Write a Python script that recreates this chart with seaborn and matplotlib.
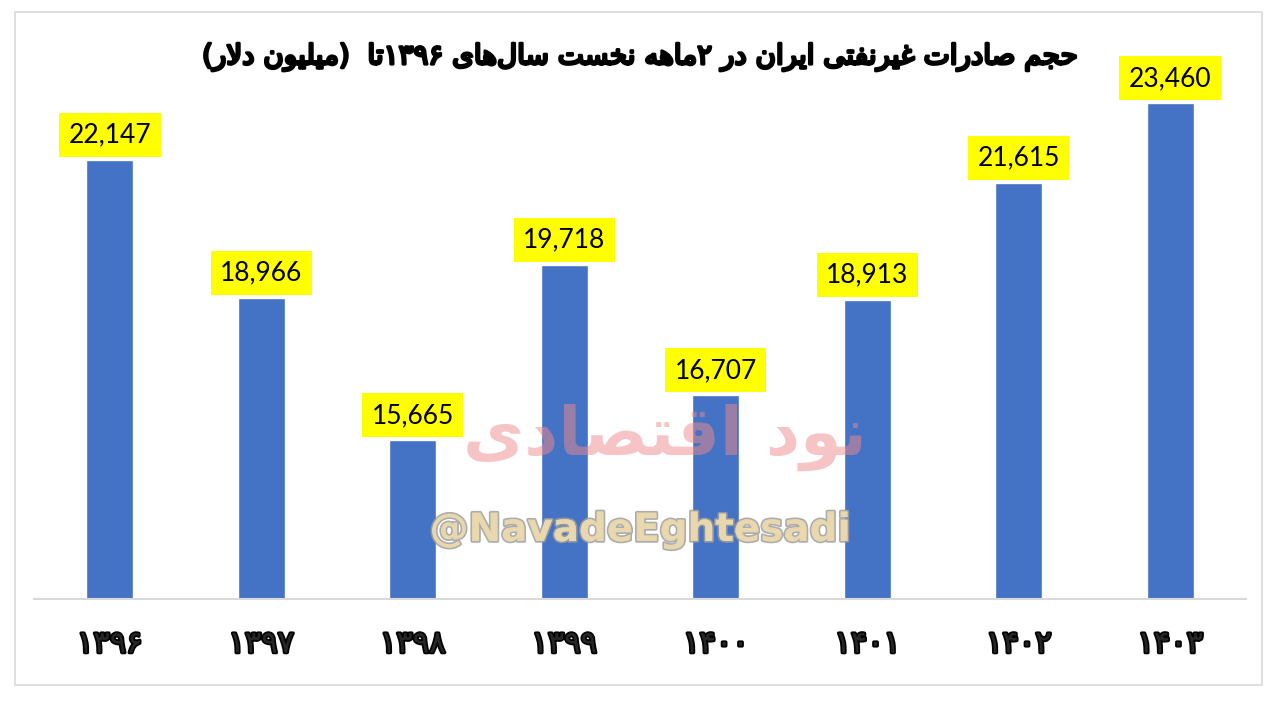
import re
import numpy as np
import pandas as pd
import seaborn as sns
import matplotlib.pyplot as plt
import matplotlib.patheffects as pe
from matplotlib.patches import Rectangle

# data
years = ['1396', '1397', '1398', '1399', '1400', '1401', '1402', '1403']
exports = [22147, 18966, 15665, 19718, 16707, 18913, 21615, 23460]
title = 'حجم صادرات غیرنفتی ایران در ۲ماهه نخست سال\u200cهای ۱۳۹۶تا  (میلیون دلار)'
watermark = '@NavadeEghtesadi'
watermark_fa = 'نود اقتصادی'

fa_digits = str.maketrans('0123456789', '۰۱۲۳۴۵۶۷۸۹')

# presentation forms: isolated, final, initial, medial
FORMS = {
    'ا': ('\uFE8D', '\uFE8E', None, None),
    'ت': ('\uFE95', '\uFE96', '\uFE97', '\uFE98'),
    'ج': ('\uFE9D', '\uFE9E', '\uFE9F', '\uFEA0'),
    'ح': ('\uFEA1', '\uFEA2', '\uFEA3', '\uFEA4'),
    'خ': ('\uFEA5', '\uFEA6', '\uFEA7', '\uFEA8'),
    'د': ('\uFEA9', '\uFEAA', None, None),
    'ر': ('\uFEAD', '\uFEAE', None, None),
    'س': ('\uFEB1', '\uFEB2', '\uFEB3', '\uFEB4'),
    'ص': ('\uFEB9', '\uFEBA', '\uFEBB', '\uFEBC'),
    'غ': ('\uFECD', '\uFECE', '\uFECF', '\uFED0'),
    'ف': ('\uFED1', '\uFED2', '\uFED3', '\uFED4'),
    'ق': ('\uFED5', '\uFED6', '\uFED7', '\uFED8'),
    'ل': ('\uFEDD', '\uFEDE', '\uFEDF', '\uFEE0'),
    'م': ('\uFEE1', '\uFEE2', '\uFEE3', '\uFEE4'),
    'ن': ('\uFEE5', '\uFEE6', '\uFEE7', '\uFEE8'),
    'ه': ('\uFEE9', '\uFEEA', '\uFEEB', '\uFEEC'),
    'و': ('\uFEED', '\uFEEE', None, None),
    'ی': ('\uFBFC', '\uFBFD', '\uFBFE', '\uFBFF'),
    'ي': ('\uFBFC', '\uFBFD', '\uFBFE', '\uFBFF'),
}


def joins_next(ch):
    return ch in FORMS and FORMS[ch][2] is not None


def rtl(text):
    # shape letters then put them in visual (left to right) order
    out = []
    i = 0
    while i < len(text):
        c = text[i]
        pj = i > 0 and joins_next(text[i - 1])
        if c == 'ل' and i + 1 < len(text) and text[i + 1] == 'ا':
            out.append('\uFEFC' if pj else '\uFEFB')
            i += 2
            continue
        if c not in FORMS:
            out.append(c)
            i += 1
            continue
        nj = i + 1 < len(text) and text[i + 1] in FORMS
        iso, fin, ini, med = FORMS[c]
        if ini is None:
            out.append(fin if pj else iso)
        elif pj and nj:
            out.append(med)
        elif pj:
            out.append(fin)
        elif nj:
            out.append(ini)
        else:
            out.append(iso)
        i += 1
    s = ''.join(out).replace('\u200c', '')[::-1]
    s = re.sub(r'[0-9\u06F0-\u06F9]+', lambda m: m.group(0)[::-1], s)
    return s.translate(str.maketrans('()', ')('))


df = pd.DataFrame({'year': [y.translate(fa_digits) for y in years], 'value': exports})

sns.set_style("white")
plt.rcParams['font.family'] = ['DejaVu Sans']

fig = plt.figure(figsize=(12.8, 7.02), dpi=100)
ax = fig.add_axes([34 / 1280, 103 / 702, 1212 / 1280, 519 / 702])

sns.barplot(data=df, x='year', y='value', color='#4472C4', saturation=1, width=0.31, ax=ax)
ax.set_ylim(12000, 24000)
ax.set_xlim(-0.5, 7.5)
ax.set(xlabel='', ylabel='')
ax.set_yticks([])
sns.despine(ax=ax, left=True)
ax.spines['bottom'].set_color('#D9D9D9')
ax.spines['bottom'].set_linewidth(1.5)
ax.tick_params(axis='x', length=0, pad=22, labelsize=22)
for lbl in ax.get_xticklabels():
    lbl.set_path_effects([pe.withStroke(linewidth=2.5, foreground='black')])

for i, v in enumerate(exports):
    ax.annotate(f'{v:,}', xy=(i, v), xytext=(0, 18), textcoords='offset points',
                ha='center', va='center', fontsize=19, family='Lato', color='black',
                bbox=dict(boxstyle='square,pad=0.36', fc='#FFFF00', ec='none'),
                annotation_clip=False)

fig.text(0.5, 1 - 57 / 702, rtl(title), ha='center', va='center', fontsize=20,
         color='black', path_effects=[pe.withStroke(linewidth=2, foreground='black')])

# watermark
fig.text(665 / 1280, 1 - 437 / 702, rtl(watermark_fa), ha='center', va='center',
         fontsize=48, fontweight='bold', color='#F08A8E', alpha=0.5, zorder=5)
fig.text(640 / 1280, 1 - 530 / 702, watermark, ha='center', va='center', fontsize=28,
         fontweight='bold', color='#EAD9AE', alpha=0.85, zorder=5,
         path_effects=[pe.withStroke(linewidth=2.5, foreground='#9E9E9E'), pe.Normal()])

fig.patches.append(Rectangle((15 / 1280, 17 / 702), 1247 / 1280, 673 / 702,
                             transform=fig.transFigure, fill=False, ec='#D9D9D9', lw=1.2))

plt.savefig('out.png', dpi=100)
